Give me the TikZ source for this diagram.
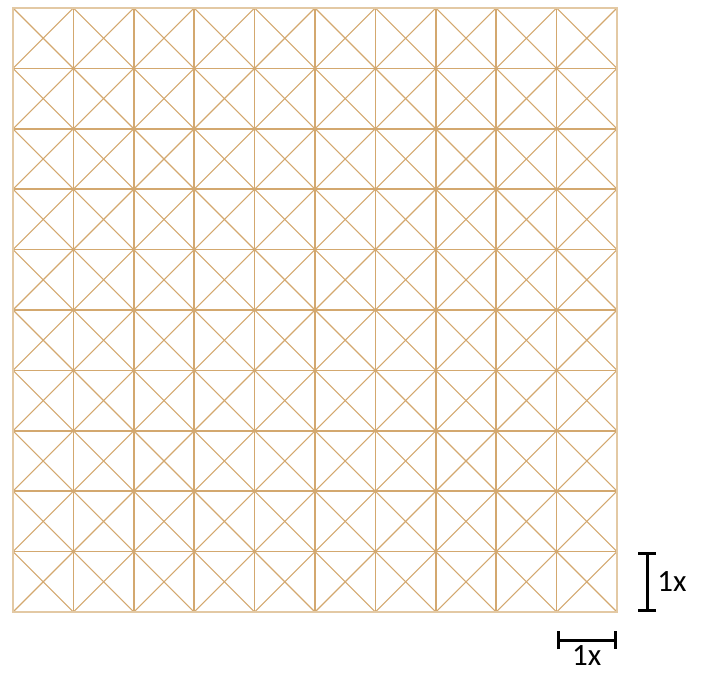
\documentclass[tikz,border=0pt]{standalone}
\usepackage{fontspec}
\setmainfont{Carlito}
\usepackage{xcolor}
\definecolor{cGrid}{HTML}{D3A86F}
\definecolor{cEdge}{HTML}{E3C9A4}
\definecolor{cBar}{HTML}{000000}
\usepackage{tikz}
\usetikzlibrary{positioning,arrows.meta,calc}
\tikzset{
  grid-line/.style={draw=cGrid,line width=1.7pt},
  grid-diag/.style={draw=cGrid,line width=1.1pt},
  grid-edge/.style={draw=cEdge,line width=1.8pt},
  scale-bar/.style={{Bar[width=18pt]}-{Bar[width=18pt]},line width=3.2pt,draw=cBar},
  bar-label/.style={font=\fontsize{31}{36}\selectfont,inner sep=0pt},
}

\begin{document}
\begin{tikzpicture}[x=1pt,y=1pt]
  \useasboundingbox (0,0) rectangle (701,676);
  % cell size 60.4, grid origin at (13,64)
  \begin{scope}[shift={(13,64)},x=60.4pt,y=60.4pt]
    \foreach \i in {0,...,9}
      \foreach \j in {0,...,9} {
        \draw[grid-diag] (\i,\j) -- (\i+1,\j+1);
        \draw[grid-diag] (\i+1,\j) -- (\i,\j+1);
      }
    \foreach \k in {1,...,9} {
      \draw[grid-line] (\k,0) -- (\k,10);
      \draw[grid-line] (0,\k) -- (10,\k);
    }
    \draw[grid-edge] (0,0) rectangle (10,10);
    \coordinate (h-a) at (9,-0.47);
    \coordinate (h-b) at (10,-0.47);
    \coordinate (v-a) at (10.5,0);
    \coordinate (v-b) at (10.5,1);
  \end{scope}
  \draw[scale-bar] (h-a) -- (h-b);
  \draw[scale-bar] (v-a) -- (v-b);
  \node[bar-label,below=5pt of $(h-a)!0.5!(h-b)$] (h-lab) {1x};
  \node[bar-label,right=10pt of $(v-a)!0.5!(v-b)$] (v-lab) {1x};
\end{tikzpicture}
\end{document}
